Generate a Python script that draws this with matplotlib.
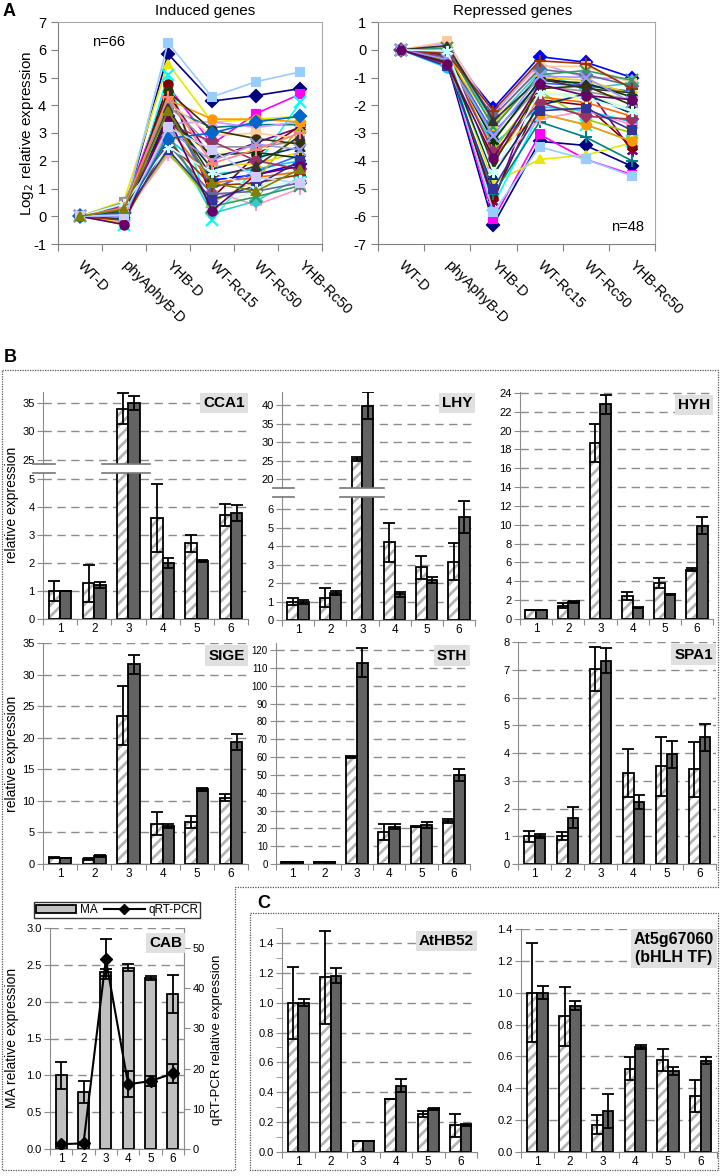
import numpy as np
import matplotlib
matplotlib.use('Agg')
import matplotlib.pyplot as plt
from matplotlib.lines import Line2D
from matplotlib.patches import Patch
from matplotlib.ticker import MultipleLocator, FormatStrFormatter
from matplotlib.transforms import ScaledTranslation

plt.rcParams['font.family'] = ['Liberation Sans', 'DejaVu Sans']
plt.rcParams['axes.unicode_minus'] = False
plt.rcParams['hatch.linewidth'] = 2.0

# ---------------- data ----------------
conditions = ['WT-D', 'phyAphyB-D', 'YHB-D', 'WT-Rc15', 'WT-Rc50', 'YHB-Rc50']
groups = ['1', '2', '3', '4', '5', '6']

# Panel A: log2 relative expression (one row per gene)
induced = [
    [0, 0.15, 5.85, 4.15, 4.35, 4.60],
    [0, 0.30, 4.70, 2.60, 3.70, 4.40],
    [0, 0.55, 5.50, 3.40, 3.50, 3.60],
    [0, -0.30, 5.10, -0.15, 1.80, 4.10],
    [0, 0.05, 4.40, 2.05, 2.65, 3.20],
    [0, 0.00, 4.75, 0.65, 2.20, 3.25],
    [0, 0.20, 3.90, 3.20, 3.30, 3.30],
    [0, 0.10, 3.60, 1.30, 1.50, 1.90],
    [0, 0.10, 6.25, 4.30, 4.85, 5.20],
    [0, 0.35, 3.35, 3.40, 3.20, 3.40],
    [0, -0.20, 2.50, 0.20, 1.00, 1.80],
    [0, 0.45, 3.10, 2.30, 2.40, 2.60],
    [0, 0.25, 2.80, 1.50, 1.70, 2.00],
    [0, 0.05, 2.20, 0.90, 0.40, 1.00],
    [0, 0.15, 3.00, 0.10, 0.55, 1.40],
    [0, -0.05, 4.10, 2.90, 3.00, 2.80],
    [0, 0.40, 3.80, 1.00, 1.60, 2.20],
    [0, 0.10, 2.30, 0.50, 1.30, 3.20],
    [0, -0.25, 3.40, 1.80, 1.90, 2.30],
    [0, 0.20, 4.20, 3.50, 3.50, 3.40],
    [0, 0.00, 3.20, 1.20, 1.40, 1.60],
    [0, 0.30, 2.60, 0.80, 0.90, 1.20],
    [0, 0.50, 4.00, 2.50, 2.50, 2.70],
    [0, -0.10, 3.70, 1.70, 2.10, 2.50],
    [0, 0.15, 2.90, 0.35, 0.70, 1.10],
    [0, 0.05, 3.50, 2.20, 2.30, 2.10],
    [0, 0.25, 4.50, 3.10, 2.80, 2.60],
    [0, -0.15, 2.70, 1.10, 1.20, 1.50],
    [0, 0.35, 3.30, 2.70, 2.00, 1.70],
    [0, 0.10, 2.40, 0.60, 1.10, 2.00],
    [0, 0.20, 3.90, 1.40, 1.80, 2.90],
    [0, 0.00, 3.10, 2.00, 2.60, 2.40],
    [0, 0.45, 2.50, 1.60, 1.00, 1.30],
    [0, -0.30, 3.60, 0.20, 1.50, 1.80],
    [0, 0.30, 4.30, 1.90, 2.40, 3.00],
    [0, 0.10, 2.80, 3.00, 3.40, 3.60],
    [0, 0.05, 3.20, 2.40, 1.40, 1.20],
    [0, 0.25, 3.80, 1.20, 0.90, 1.70],
]

repressed = [
    [0, -0.45, -6.30, -3.30, -3.45, -4.20],
    [0, -0.30, -6.10, -3.05, -3.95, -4.50],
    [0, -0.20, -4.80, -3.95, -3.80, -3.35],
    [0, -0.10, -5.60, -2.30, -2.70, -3.30],
    [0, -0.35, -5.50, -1.00, -1.30, -3.65],
    [0, -0.50, -5.35, -1.80, -2.00, -3.50],
    [0, -0.40, -5.20, -2.60, -3.15, -4.00],
    [0, -0.05, -2.10, -0.25, -0.45, -1.00],
    [0, -0.35, -5.85, -3.50, -3.95, -4.55],
    [0, 0.25, -2.30, -0.50, -1.00, -1.05],
    [0, -0.30, -3.50, -1.60, -1.60, -2.15],
    [0, -0.45, -2.90, -1.45, -1.85, -1.40],
    [0, -0.65, -3.40, -2.05, -2.20, -2.60],
    [0, -0.15, -4.25, -2.50, -2.20, -2.70],
    [0, -0.05, -2.60, -0.80, -1.40, -1.20],
    [0, 0.30, -2.50, -0.60, -0.60, -1.20],
    [0, -0.20, -3.00, -1.20, -1.30, -1.50],
    [0, -0.40, -3.60, -1.50, -2.50, -3.00],
    [0, -0.25, -2.70, -1.00, -1.10, -1.60],
    [0, 0.10, -3.80, -2.30, -2.70, -3.30],
    [0, -0.55, -4.00, -1.70, -1.90, -2.40],
    [0, -0.10, -2.40, -0.70, -0.90, -1.30],
    [0, -0.30, -3.20, -1.30, -1.50, -1.80],
    [0, -0.35, -4.50, -2.00, -1.60, -2.30],
    [0, 0.05, -2.80, -0.90, -0.75, -1.10],
    [0, -0.20, -3.30, -1.10, -1.20, -1.70],
    [0, -0.45, -4.10, -1.40, -1.30, -2.00],
    [0, -0.15, -2.20, -0.40, -0.50, -1.40],
    [0, -0.25, -3.70, -1.90, -2.40, -2.50],
    [0, -0.60, -5.00, -2.20, -2.10, -2.90],
    [0, 0.15, -2.55, -1.05, -1.40, -1.55],
    [0, -0.35, -3.10, -0.95, -1.00, -1.90],
    [0, -0.05, -4.40, -1.55, -1.75, -2.20],
    [0, -0.50, -3.90, -1.25, -1.65, -1.80],
]

# Panel B/C: microarray (MA) and qRT-PCR values with errors
cca1_ma = [1.0, 1.27, 34.0, 3.6, 2.7, 3.72]
cca1_ma_err = [0.34, 0.65, 2.7, 1.2, 0.3, 0.4]
cca1_qrt = [1.0, 1.22, 35.0, 2.0, 2.07, 3.78]
cca1_qrt_err = [0.0, 0.1, 1.2, 0.17, 0.02, 0.3]

lhy_ma = [1.0, 1.2, 25.5, 4.2, 2.85, 3.15]
lhy_ma_err = [0.21, 0.52, 0.5, 1.05, 0.62, 1.0]
lhy_qrt = [0.98, 1.45, 39.8, 1.38, 2.15, 5.55]
lhy_qrt_err = [0.1, 0.1, 3.6, 0.15, 0.15, 0.87]

hyh_ma = [1.0, 1.4, 18.7, 2.4, 3.8, 5.25]
hyh_ma_err = [0.0, 0.25, 2.05, 0.42, 0.5, 0.15]
hyh_qrt = [1.0, 1.78, 22.8, 1.2, 2.65, 9.9]
hyh_qrt_err = [0.0, 0.08, 1.0, 0.05, 0.05, 0.9]

sige_ma = [1.0, 0.8, 23.5, 6.4, 6.6, 10.5]
sige_ma_err = [0.05, 0.1, 4.7, 1.85, 0.95, 0.6]
sige_qrt = [1.0, 1.25, 31.6, 6.0, 11.8, 19.3]
sige_qrt_err = [0.0, 0.1, 1.55, 0.35, 0.3, 1.3]

sth_ma = [1.0, 1.0, 60.0, 18.0, 20.8, 24.3]
sth_ma_err = [0.0, 0.0, 0.5, 4.7, 0.3, 1.2]
sth_qrt = [1.0, 1.0, 113.0, 21.0, 22.0, 50.0]
sth_qrt_err = [0.0, 0.0, 8.0, 1.6, 1.8, 3.2]

spa1_ma = [1.0, 1.0, 7.03, 3.29, 3.52, 3.41]
spa1_ma_err = [0.2, 0.15, 0.8, 0.87, 1.07, 0.98]
spa1_qrt = [1.0, 1.67, 7.33, 2.23, 3.96, 4.57]
spa1_qrt_err = [0.08, 0.37, 0.45, 0.25, 0.49, 0.48]

cab_ma = [1.0, 0.77, 2.4, 2.46, 2.32, 2.1]
cab_ma_err = [0.18, 0.15, 0.05, 0.05, 0.03, 0.26]
cab_qrt = [1.2, 1.4, 47.2, 16.1, 16.9, 18.8]
cab_qrt_err = [0.3, 0.3, 5.0, 3.2, 1.3, 2.3]

athb52_ma = [1.0, 1.17, 0.075, 0.355, 0.255, 0.178]
athb52_ma_err = [0.24, 0.31, 0.0, 0.0, 0.02, 0.078]
athb52_qrt = [1.0, 1.18, 0.075, 0.445, 0.289, 0.18]
athb52_qrt_err = [0.025, 0.05, 0.0, 0.043, 0.005, 0.005]

bhlh_ma = [1.0, 0.853, 0.172, 0.524, 0.577, 0.352]
bhlh_ma_err = [0.31, 0.186, 0.062, 0.071, 0.068, 0.1]
bhlh_qrt = [1.0, 0.918, 0.258, 0.66, 0.507, 0.574]
bhlh_qrt_err = [0.04, 0.028, 0.108, 0.012, 0.024, 0.023]

# ---------------- styles ----------------
palette = ['#000080', '#FF00FF', '#E8E800', '#00FFFF', '#800080', '#800000',
           '#008080', '#0000FF', '#99CCFF', '#CC99FF', '#CCFFCC', '#FFFF99',
           '#00CCFF', '#FF99CC', '#33CCCC', '#FFCC99', '#3366FF', '#99CC00',
           '#FFCC00', '#FF9900', '#FF6600', '#666699', '#969696', '#003366',
           '#339966', '#003300', '#333300', '#993300', '#993366', '#333399',
           '#333333', '#9999FF', '#CCFFFF', '#660066', '#FF8080', '#0066CC',
           '#CCCCFF', '#808000']
markers = ['D', 's', '^', 'x', (6, 2, 0), 'o', '+']
GRID = '#8c8c8c'
DARK = '#636363'

W, H = 720, 1176
fig = plt.figure(figsize=(W / 100, H / 100), dpi=100)


def box(x0, y0, x1, y1):
    return [x0 / W, 1 - y1 / H, (x1 - x0) / W, (y1 - y0) / H]


def ftext(x, y, s, **kw):
    fig.text(x / W, 1 - y / H, s, **kw)


def fline(xs, ys, **kw):
    fig.add_artist(Line2D([v / W for v in xs], [1 - v / H for v in ys], **kw))


# ---------------- panel A ----------------
def line_panel(rect, rows, ylim):
    ax = fig.add_axes(box(*rect))
    xs = np.arange(len(conditions)) + 0.5
    for i, row in enumerate(rows):
        c = palette[i % len(palette)]
        mk = markers[i % len(markers)]
        ms = 8 if mk in ('x', '+', (6, 2, 0)) else 6
        ax.plot(xs, row, color=c, lw=1.2, marker=mk, ms=ms, mfc=c, mec=c, mew=1.5)
    ax.set_xlim(0, 6)
    ax.set_ylim(*ylim)
    ax.set_yticks(range(ylim[0], ylim[1] + 1))
    ax.set_xticks(range(7))
    ax.set_xticklabels([])
    ax.set_xticks(xs, minor=True)
    ax.set_xticklabels(conditions, minor=True, rotation=-45, ha='left', va='center',
                       rotation_mode='anchor', fontsize=10.5)
    for lab in ax.get_xticklabels(minor=True):
        lab.set_transform(lab.get_transform() + ScaledTranslation(-0.08, 0, fig.dpi_scale_trans))
    ax.tick_params(axis='x', which='minor', length=0, pad=14)
    ax.tick_params(axis='x', which='major', length=5, color='#808080')
    ax.tick_params(axis='y', length=5, color='#808080', labelsize=10.5)
    for s in ax.spines.values():
        s.set_color('#a8a8a8')
    ax.spines['left'].set_color('#808080')
    ax.spines['bottom'].set_color('#808080')
    return ax


axA1 = line_panel((58, 22, 322, 244), induced, (-1, 7))
axA1.text(0.13, 0.89, 'n=66', transform=axA1.transAxes, fontsize=10.5)
axA2 = line_panel((378, 22, 655, 244), repressed, (-7, 1))
axA2.text(0.96, 0.06, 'n=48', transform=axA2.transAxes, fontsize=10.5, ha='right')
ftext(27, 133, 'Log$_2$ relative expression', rotation=90, fontsize=11, ha='center', va='center')
ftext(205, 11, 'Induced genes', fontsize=11, ha='center', va='center')
ftext(513, 11, 'Repressed genes', fontsize=11, ha='center', va='center')
ftext(3, 11, 'A', fontsize=13, fontweight='bold', va='center')


# ---------------- bar panels ----------------
def style_bar_ax(ax, ylim, step, fmt=None, show_x=True, labelsize=8):
    ax.set_xlim(0.5, 6.5)
    ax.set_ylim(*ylim)
    ax.yaxis.set_major_locator(MultipleLocator(step))
    if fmt:
        ax.yaxis.set_major_formatter(FormatStrFormatter(fmt))
    ax.grid(axis='y', color=GRID, ls=(0, (6, 4)), lw=1)
    ax.set_axisbelow(True)
    ax.spines['top'].set_visible(False)
    ax.spines['right'].set_visible(False)
    ax.spines['left'].set_color(GRID)
    ax.spines['bottom'].set_color(GRID)
    ax.tick_params(axis='y', length=4, color=GRID, labelsize=labelsize, pad=2)
    if show_x:
        ax.set_xticks(np.arange(0.5, 7, 1))
        ax.set_xticklabels([])
        ax.set_xticks(np.arange(1, 7), minor=True)
        ax.set_xticklabels(groups, minor=True, fontsize=8.5)
        ax.tick_params(axis='x', which='major', length=4, color=GRID)
        ax.tick_params(axis='x', which='minor', length=0, pad=3)
    else:
        ax.spines['bottom'].set_visible(False)
        ax.set_xticks([])


def draw_pairs(ax, ma, ma_err, qrt, qrt_err):
    x = np.arange(1, 7)
    w = 0.33
    ax.bar(x - w / 2, ma, w, color='white', edgecolor='#b4b4b4', hatch='///', lw=0, zorder=2)
    ax.bar(x - w / 2, ma, w, color='none', edgecolor='black', lw=1.3, zorder=3)
    ax.bar(x + w / 2, qrt, w, color=DARK, edgecolor='black', lw=1.3, zorder=3)
    ax.errorbar(x - w / 2, ma, yerr=ma_err, fmt='none', ecolor='black', elinewidth=1.3,
                capsize=4, capthick=1.3, zorder=4)
    ax.errorbar(x + w / 2, qrt, yerr=qrt_err, fmt='none', ecolor='black', elinewidth=1.3,
                capsize=4, capthick=1.3, zorder=4)


def gene_label(ax, s, y=0.975, size=11):
    ax.text(0.985, y, s, transform=ax.transAxes, ha='right', va='top', fontsize=size,
            fontweight='bold', multialignment='center', zorder=6,
            bbox=dict(boxstyle='square,pad=0.2', fc='#e0e0e0', ec='none'))


# CCA1 (broken axis)
ax = fig.add_axes(box(43, 392, 248, 464))
draw_pairs(ax, cca1_ma, cca1_ma_err, cca1_qrt, cca1_qrt_err)
style_bar_ax(ax, (24.3, 36.9), 5, show_x=False)
gene_label(ax, 'CCA1', y=0.95)
ax = fig.add_axes(box(43, 473, 248, 619))
draw_pairs(ax, cca1_ma, cca1_ma_err, cca1_qrt, cca1_qrt_err)
style_bar_ax(ax, (0, 5.21), 1)
for yy in (464, 473):
    fline([33, 55], [yy, yy], color='#777777', lw=1.2)
    fline([102, 150], [yy, yy], color='#777777', lw=1.2)

# LHY (broken axis)
ax = fig.add_axes(box(282, 392, 475, 488))
draw_pairs(ax, lhy_ma, lhy_ma_err, lhy_qrt, lhy_qrt_err)
style_bar_ax(ax, (17.6, 43.5), 5, show_x=False)
gene_label(ax, 'LHY', y=0.96)
ax = fig.add_axes(box(282, 497, 475, 620))
draw_pairs(ax, lhy_ma, lhy_ma_err, lhy_qrt, lhy_qrt_err)
style_bar_ax(ax, (0, 6.65), 1)
for yy in (488, 497):
    fline([273, 294], [yy, yy], color='#777777', lw=1.2)
    fline([340, 384], [yy, yy], color='#777777', lw=1.2)

# HYH
ax = fig.add_axes(box(520, 392, 713, 619))
draw_pairs(ax, hyh_ma, hyh_ma_err, hyh_qrt, hyh_qrt_err)
style_bar_ax(ax, (0, 24.1), 2)
gene_label(ax, 'HYH')

# SIGE
ax = fig.add_axes(box(43, 643, 248, 864))
draw_pairs(ax, sige_ma, sige_ma_err, sige_qrt, sige_qrt_err)
style_bar_ax(ax, (0, 35), 5)
gene_label(ax, 'SIGE')

# STH
ax = fig.add_axes(box(276, 643, 470, 864))
draw_pairs(ax, sth_ma, sth_ma_err, sth_qrt, sth_qrt_err)
style_bar_ax(ax, (0, 124), 10, labelsize=7)
gene_label(ax, 'STH')

# SPA1
ax = fig.add_axes(box(518, 642, 716, 864))
draw_pairs(ax, spa1_ma, spa1_ma_err, spa1_qrt, spa1_qrt_err)
style_bar_ax(ax, (0, 8), 1)
gene_label(ax, 'SPA1')

ftext(12, 505, 'relative expression', rotation=90, fontsize=10, ha='center', va='center')
ftext(12, 754, 'relative expression', rotation=90, fontsize=10, ha='center', va='center')

# CAB (MA bars + qRT-PCR line on twin axis)
ax = fig.add_axes(box(50, 928, 184, 1149))
xc = np.arange(1, 7)
ax.bar(xc, cab_ma, 0.5, color='#c0c0c0', edgecolor='black', lw=1.3, zorder=2)
ax.errorbar(xc, cab_ma, yerr=cab_ma_err, fmt='none', ecolor='black', elinewidth=1.3,
            capsize=4, capthick=1.3, zorder=3)
style_bar_ax(ax, (0, 3.0), 0.5, fmt='%.1f')
ax.spines['right'].set_visible(True)
ax.spines['right'].set_color(GRID)
ax2 = ax.twinx()
ax2.plot(xc, cab_qrt, color='black', lw=1.5, marker='D', ms=6, zorder=5)
ax2.errorbar(xc, cab_qrt, yerr=cab_qrt_err, fmt='none', ecolor='black', elinewidth=1.3,
             capsize=4, capthick=1.3, zorder=5)
ax2.set_ylim(0, 55)
ax2.yaxis.set_major_locator(MultipleLocator(10))
ax2.tick_params(axis='y', length=4, color=GRID, labelsize=8, pad=2)
for s in ('top', 'left', 'bottom'):
    ax2.spines[s].set_visible(False)
ax2.spines['right'].set_color(GRID)
gene_label(ax2, 'CAB', y=0.965)
ftext(12, 1038, 'MA relative expression', rotation=90, fontsize=10, ha='center', va='center')
ftext(217, 1040, 'qRT-PCR relative expression', rotation=90, fontsize=9.5, ha='center', va='center')
handles = [Patch(fc='#c0c0c0', ec='black', lw=1.3),
           Line2D([], [], color='black', lw=1.5, marker='D', ms=5)]
fig.legend(handles, ['MA', 'qRT-PCR'], loc='center', bbox_to_anchor=(117 / W, 1 - 910 / H),
           ncol=2, fontsize=8.5, frameon=True, fancybox=False, edgecolor='black',
           handlelength=3.4, handletextpad=0.3, columnspacing=0.6, borderpad=0.2,
           borderaxespad=0)

# AtHB52
ax = fig.add_axes(box(282, 928, 477, 1152))
draw_pairs(ax, athb52_ma, athb52_ma_err, athb52_qrt, athb52_qrt_err)
style_bar_ax(ax, (0, 1.5), 0.2, fmt='%.1f')
ax.yaxis.set_minor_locator(MultipleLocator(0.1))
ax.tick_params(axis='y', which='minor', length=4, color=GRID)
gene_label(ax, 'AtHB52')

# At5g67060
ax = fig.add_axes(box(521, 929, 717, 1152))
draw_pairs(ax, bhlh_ma, bhlh_ma_err, bhlh_qrt, bhlh_qrt_err)
style_bar_ax(ax, (0, 1.4), 0.2, fmt='%.1f')
gene_label(ax, 'At5g67060\n(bHLH TF)', y=0.985, size=11.5)

# panel frames and letters
dot = dict(color='#555555', lw=0.9, ls=(0, (1, 1)))
fline([2, 718, 718, 235, 235, 2, 2], [370, 370, 887, 887, 1170, 1170, 370], **dot)
fline([250, 718, 718, 250, 250], [913, 913, 1170, 1170, 913], **dot)
ftext(4, 357, 'B', fontsize=13, fontweight='bold', va='center')
ftext(257, 904, 'C', fontsize=13, fontweight='bold', va='center')

fig.savefig('out.png', dpi=100)
